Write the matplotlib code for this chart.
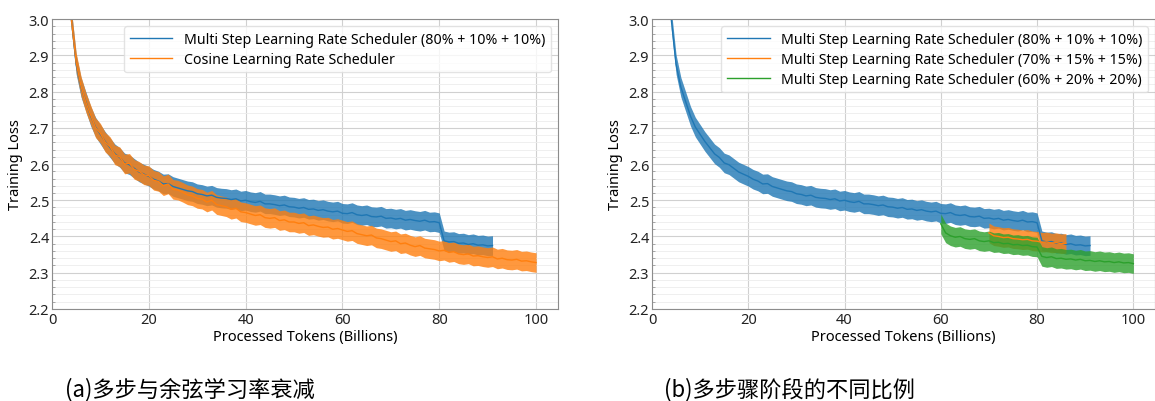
import numpy as np
import matplotlib.pyplot as plt
from matplotlib.ticker import MultipleLocator

plt.rcParams['font.family'] = ['Noto Sans', 'Noto Sans CJK SC', 'DejaVu Sans']

# Processed tokens (billions), one reading per billion
x_cos = np.arange(4, 101)
cosine = [3.00, 2.88, 2.815, 2.77, 2.735, 2.70, 2.685, 2.66, 2.648, 2.625,
          2.62, 2.60, 2.602, 2.585, 2.58, 2.57, 2.568, 2.555, 2.552, 2.54,
          2.545, 2.53, 2.528, 2.522, 2.515, 2.512, 2.505, 2.503, 2.495, 2.50,
          2.488, 2.485, 2.482, 2.475, 2.478, 2.468, 2.466, 2.462, 2.458, 2.46,
          2.452, 2.45, 2.452, 2.444, 2.446, 2.44, 2.44, 2.436, 2.438, 2.43,
          2.432, 2.428, 2.425, 2.426, 2.42, 2.422, 2.418, 2.414, 2.416, 2.408,
          2.405, 2.402, 2.404, 2.396, 2.394, 2.39, 2.386, 2.388, 2.38, 2.382,
          2.376, 2.372, 2.375, 2.368, 2.366, 2.364, 2.36, 2.362, 2.356, 2.358,
          2.352, 2.35, 2.352, 2.346, 2.347, 2.344, 2.342, 2.344, 2.338, 2.34,
          2.336, 2.335, 2.337, 2.332, 2.333, 2.33, 2.328]

x_ms80 = np.arange(4, 92)
ms80 = [3.00, 2.875, 2.812, 2.772, 2.732, 2.702, 2.682, 2.662, 2.645, 2.628,
        2.618, 2.603, 2.598, 2.588, 2.578, 2.572, 2.566, 2.558, 2.553, 2.545,
        2.546, 2.538, 2.534, 2.53, 2.526, 2.524, 2.518, 2.516, 2.512, 2.514,
        2.508, 2.506, 2.505, 2.502, 2.504, 2.498, 2.50, 2.496, 2.494, 2.497,
        2.49, 2.49, 2.488, 2.485, 2.487, 2.482, 2.481, 2.478, 2.48, 2.475,
        2.476, 2.472, 2.474, 2.47, 2.468, 2.47, 2.464, 2.463, 2.466, 2.46,
        2.458, 2.46, 2.455, 2.454, 2.456, 2.45, 2.451, 2.448, 2.45, 2.445,
        2.447, 2.444, 2.442, 2.445, 2.44, 2.441, 2.438, 2.388, 2.385, 2.386,
        2.381, 2.382, 2.378, 2.38, 2.376, 2.377, 2.374, 2.375]

x_ms70 = np.arange(70, 87)
ms70 = [2.41, 2.402, 2.40, 2.397, 2.398, 2.394, 2.393, 2.391, 2.392, 2.388,
        2.387, 2.384, 2.385, 2.382, 2.383, 2.38, 2.381]

x_ms60 = np.arange(60, 101)
ms60 = [2.435, 2.41, 2.402, 2.398, 2.40, 2.394, 2.392, 2.394, 2.388, 2.386,
        2.388, 2.383, 2.384, 2.38, 2.381, 2.377, 2.378, 2.375, 2.376, 2.372,
        2.371, 2.345, 2.342, 2.344, 2.339, 2.34, 2.337, 2.338, 2.335, 2.337,
        2.333, 2.334, 2.331, 2.333, 2.33, 2.331, 2.328, 2.33, 2.327, 2.328,
        2.325]

xticks = [0, 20, 40, 60, 80, 100]
yticks = [2.2, 2.3, 2.4, 2.5, 2.6, 2.7, 2.8, 2.9, 3.0]
noise = 0.027  # half width of the noisy band

blue, orange, green = '#1f77b4', '#ff7f0e', '#2ca02c'


def curve(ax, x, y, color, label):
    y = np.array(y)
    ax.fill_between(x, y - noise, y + noise, color=color, alpha=0.8, lw=0)
    ax.plot(x, y, color=color, lw=1.0, label=label)


def style(ax):
    ax.set_xlim(0, 104.5)
    ax.set_ylim(2.2, 3.0)
    ax.set_xticks(xticks)
    ax.set_yticks(yticks)
    ax.yaxis.set_minor_locator(MultipleLocator(0.02))
    ax.grid(which='major', color='#d0d0d0', lw=0.8)
    ax.grid(which='minor', axis='y', color='#ececec', lw=0.6)
    ax.tick_params(which='both', length=0, pad=2, labelsize=10.5,
                   colors='#222222')
    ax.tick_params(which='minor', axis='y', length=2, color='#999999',
                   direction='in')
    for s in ax.spines.values():
        s.set_color('#8c8c8c')
    ax.set_xlabel('Processed Tokens (Billions)', fontsize=10.5, labelpad=2)
    ax.set_ylabel('Training Loss', fontsize=10.5, labelpad=4)
    ax.set_axisbelow(True)


fig = plt.figure(figsize=(11.55, 4.02), dpi=100)
ax1 = fig.add_axes([0.045, 0.229, 0.438, 0.721])
ax2 = fig.add_axes([0.5645, 0.229, 0.4355, 0.721])

curve(ax1, x_ms80, ms80, blue, 'Multi Step Learning Rate Scheduler (80% + 10% + 10%)')
curve(ax1, x_cos, cosine, orange, 'Cosine Learning Rate Scheduler')

curve(ax2, x_ms80, ms80, blue, 'Multi Step Learning Rate Scheduler (80% + 10% + 10%)')
curve(ax2, x_ms70, ms70, orange, 'Multi Step Learning Rate Scheduler (70% + 15% + 15%)')
curve(ax2, x_ms60, ms60, green, 'Multi Step Learning Rate Scheduler (60% + 20% + 20%)')

for ax in (ax1, ax2):
    style(ax)
    leg = ax.legend(loc='upper right', fontsize=10.2, frameon=True,
                    handlelength=3, borderaxespad=0.5, labelspacing=0.35)
    leg.get_frame().set_edgecolor('#dddddd')
    for h in leg.get_lines():
        h.set_linewidth(1.0)

fig.text(0.056, 0.032, '(a)多步与余弦学习率衰减', fontsize=16,
         family=['Noto Sans CJK SC', 'DejaVu Sans'], va='center')
fig.text(0.575, 0.032, '(b)多步骤阶段的不同比例', fontsize=16,
         family=['Noto Sans CJK SC', 'DejaVu Sans'], va='center')

fig.savefig('out.png', dpi=100)
